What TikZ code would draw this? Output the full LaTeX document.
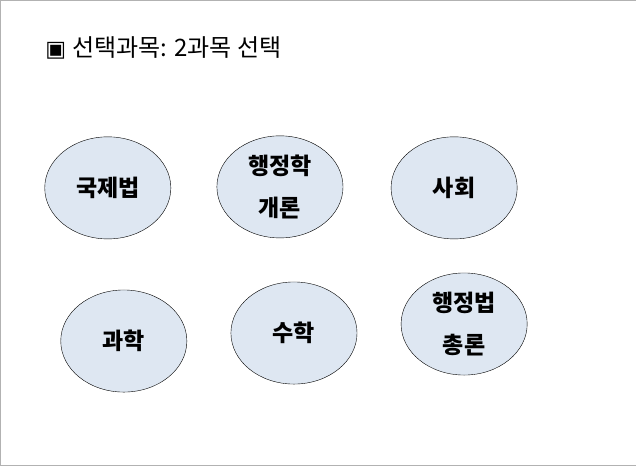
\documentclass[tikz,border=0pt]{standalone}
\usepackage{fontspec}
\newfontfamily\kr{Noto Sans CJK KR}
\newfontfamily\sym{DejaVu Sans}
\usetikzlibrary{shapes.geometric}
\definecolor{cfill}{HTML}{DEE7F2}
\tikzset{subj/.style={ellipse,draw=black,fill=cfill,minimum width=126pt,minimum height=102pt,inner sep=0pt,align=center,font=\kr\bfseries\fontsize{23}{42}\selectfont}}
\begin{document}
\begin{tikzpicture}[x=1pt,y=-1pt]
\draw[gray!60,fill=white] (0.5,0.5) rectangle (635.5,465.5);
\node[anchor=west,font=\kr\fontsize{24}{28}\selectfont] (t) at (42,48) {{\sym\fontsize{22}{28}\selectfont ▣}\hspace{6pt}선택과목: 2과목 선택};
\node[subj] (a) at (108,188) {국제법};
\node[subj] (b) at (280,187) {행정학\\개론};
\node[subj] (c) at (454,188) {사회};
\node[subj] (d) at (124,341) {과학};
\node[subj] (e) at (294,333) {수학};
\node[subj] (f) at (464,324) {행정법\\총론};
\end{tikzpicture}
\end{document}
